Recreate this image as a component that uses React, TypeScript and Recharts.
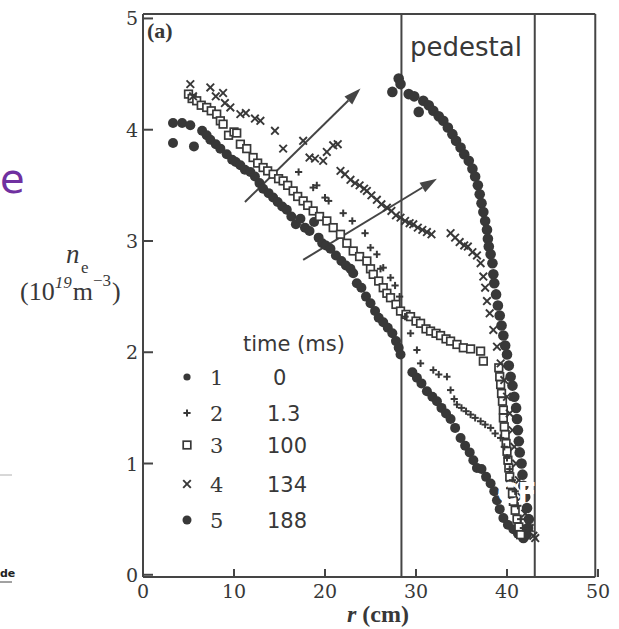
import React from 'react';
import { ScatterChart, Scatter, XAxis, YAxis, ReferenceLine } from 'recharts';

const INK = '#383838';
const LINE = '#454545';
const SERIF = '"DejaVu Serif", "Liberation Serif", serif';
const SANS = '"DejaVu Sans", "Liberation Sans", sans-serif';

const xTicks = [0, 10, 20, 30, 40, 50];
const yTicks = [0, 1, 2, 3, 4, 5];
const xDomain: [number, number] = [0, 50];
const yDomain: [number, number] = [-0.02, 5.04];
const frameRight = 49.7;
const pedestalBounds = [28.4, 43.05];

const seriesIds = ['1', '2', '3', '4', '5'];
const timesMs = ['0', '1.3', '100', '134', '188'];

// arrows: [r0, n0, r1, n1]
const arrowA = [11.2, 3.35, 23.9, 4.37];
const arrowB = [17.6, 2.83, 32.3, 3.56];

// series 1 : t = 0 ms (filled circles)
const s1: [number, number][] = [
  [3.3, 4.06], [4.3, 4.06], [3.3, 3.88], [5.2, 4.04], [5.6, 3.85], [6.5, 3.99], [7.0, 3.95], [7.4, 3.91],
  [8.0, 3.87], [8.5, 3.83], [9.2, 3.78], [9.8, 3.73], [10.2, 3.71], [10.7, 3.68], [11.2, 3.64], [11.8, 3.62],
  [12.3, 3.58], [12.8, 3.52], [13.2, 3.47], [13.8, 3.43], [14.3, 3.39], [14.8, 3.35], [15.3, 3.31], [15.8, 3.28],
  [16.3, 3.22], [16.8, 3.15], [17.3, 3.2], [17.8, 3.12], [18.3, 3.09], [18.8, 3.17], [19.3, 3.03], [19.7, 2.98],
  [20.1, 2.96], [20.6, 2.93], [21.2, 2.87], [21.8, 2.82], [22.3, 2.78], [22.8, 2.75], [23.1, 2.71], [23.5, 2.62],
  [24.0, 2.58], [24.5, 2.5], [25.0, 2.44], [25.5, 2.37], [25.9, 2.31], [26.4, 2.27], [26.9, 2.22], [27.4, 2.17],
  [27.8, 2.1], [28.1, 2.04], [28.3, 1.98], [29.6, 1.82], [30.1, 1.77], [30.6, 1.72], [31.2, 1.65], [31.8, 1.6],
  [32.3, 1.56], [32.8, 1.5], [33.3, 1.45], [33.8, 1.4], [34.3, 1.32], [34.9, 1.23], [35.4, 1.16], [35.9, 1.1],
  [36.3, 1.03], [36.7, 0.96], [37.2, 0.95], [37.7, 0.88], [38.2, 0.82], [38.6, 0.75], [38.9, 0.67], [39.2, 0.59],
  [39.6, 0.51], [40.1, 0.45], [40.7, 0.41], [41.2, 0.37], [41.7, 0.35],
];

// series 2 : t = 1.3 ms (plus)
const s2: [number, number][] = [
  [17.1, 3.62], [18.7, 3.48], [19.1, 3.5], [20.0, 3.39], [20.4, 3.36], [22.0, 3.25], [23.0, 3.18], [24.4, 3.07],
  [25.0, 2.94], [25.7, 2.88], [26.1, 2.75], [26.4, 2.76], [27.2, 2.67], [27.7, 2.6], [28.2, 2.5], [28.8, 2.32],
  [29.4, 2.17], [30.1, 2.02], [30.5, 1.9], [31.9, 1.84], [32.5, 1.8], [33.4, 1.78], [33.8, 1.66], [34.2, 1.58],
  [34.5, 1.53], [35.0, 1.5], [35.5, 1.47], [36.0, 1.44], [36.5, 1.41], [37.1, 1.38], [37.6, 1.35], [38.2, 1.32],
  [38.7, 1.27], [39.3, 1.23], [39.7, 1.15], [40.0, 1.05], [40.3, 0.95], [40.6, 0.85], [40.9, 0.75], [41.2, 0.62],
  [41.5, 0.5], [41.8, 0.42],
];

// series 3 : t = 100 ms (open squares)
const s3: [number, number][] = [
  [5.0, 4.32], [5.4, 4.28], [5.9, 4.26], [6.4, 4.22], [7.0, 4.2], [7.5, 4.17], [8.1, 4.14], [8.5, 4.08],
  [8.8, 4.05], [9.4, 3.95], [10.0, 3.98], [10.3, 3.97], [10.7, 3.87], [11.4, 3.83], [12.1, 3.75], [12.6, 3.7],
  [13.2, 3.66], [13.7, 3.63], [14.3, 3.6], [14.9, 3.56], [15.4, 3.54], [15.9, 3.5], [16.5, 3.45], [17.0, 3.4],
  [17.6, 3.36], [18.1, 3.32], [18.7, 3.27], [19.4, 3.22], [20.2, 3.18], [20.9, 3.12], [21.7, 3.06], [22.4, 2.98],
  [23.1, 2.91], [23.8, 2.86], [24.6, 2.82], [25.0, 2.75], [25.3, 2.7], [25.9, 2.64], [26.4, 2.58], [26.8, 2.53],
  [27.2, 2.49], [27.8, 2.43], [28.3, 2.37], [28.9, 2.34], [29.4, 2.32], [30.0, 2.28], [30.5, 2.26], [31.1, 2.21],
  [31.6, 2.19], [32.2, 2.17], [32.7, 2.15], [33.3, 2.12], [33.8, 2.1], [34.5, 2.07], [35.2, 2.04], [36.0, 2.03],
  [37.1, 2.01], [37.4, 1.92], [39.1, 1.86], [39.2, 1.78], [39.3, 1.71], [39.4, 1.63], [39.5, 1.56], [39.6, 1.48],
  [39.6, 1.41], [39.7, 1.33], [39.8, 1.26], [39.9, 1.18], [40.0, 1.11], [40.1, 1.03], [40.2, 0.96], [40.3, 0.88],
  [40.4, 0.81], [40.6, 0.73], [40.7, 0.66], [40.9, 0.58], [41.1, 0.5], [41.3, 0.43], [41.5, 0.36],
];

// series 4 : t = 134 ms (crosses)
const s4: [number, number][] = [
  [5.2, 4.41], [5.5, 4.3], [7.4, 4.38], [8.0, 4.3], [8.8, 4.33], [9.0, 4.24], [9.6, 4.2], [10.7, 4.14],
  [11.3, 4.15], [12.3, 4.1], [12.9, 4.08], [14.5, 3.99], [15.4, 3.83], [17.6, 3.9], [18.3, 3.75], [18.9, 3.74],
  [19.8, 3.72], [20.2, 3.8], [20.9, 3.86], [21.4, 3.87], [21.7, 3.63], [22.2, 3.6], [22.8, 3.55], [23.3, 3.52],
  [23.8, 3.5], [24.3, 3.47], [24.6, 3.45], [25.1, 3.41], [25.7, 3.37], [26.2, 3.33], [26.8, 3.3], [27.3, 3.27],
  [27.8, 3.23], [28.3, 3.21], [28.8, 3.18], [29.3, 3.16], [29.7, 3.15], [30.2, 3.12], [30.7, 3.1], [31.2, 3.08],
  [31.7, 3.06], [33.8, 3.07], [34.3, 3.03], [34.8, 2.99], [35.3, 2.96], [35.7, 2.95], [36.2, 2.9], [36.7, 2.87],
  [37.1, 2.8], [37.4, 2.68], [37.6, 2.58], [37.8, 2.46], [38.1, 2.35], [38.5, 2.2], [38.9, 2.05], [39.3, 1.9],
  [39.7, 1.75], [40.0, 1.6], [40.3, 1.45], [40.6, 1.3], [40.8, 1.15], [41.0, 1.0], [41.3, 0.85], [41.6, 0.7],
  [42.0, 0.55], [42.5, 0.42], [42.9, 0.35], [43.1, 0.33],
];

// series 5 : t = 188 ms (filled circles, pedestal)
const s5: [number, number][] = [
  [27.4, 4.34], [28.1, 4.46], [28.3, 4.41], [29.2, 4.32], [29.8, 4.3], [30.3, 4.16], [30.8, 4.26], [31.4, 4.22],
  [31.9, 4.17], [32.5, 4.12], [33.0, 4.08], [33.5, 4.02], [34.0, 3.96], [34.4, 3.9], [34.9, 3.84], [35.3, 3.78],
  [35.8, 3.72], [36.2, 3.65], [36.5, 3.58], [36.8, 3.5], [37.0, 3.42], [37.2, 3.34], [37.4, 3.26], [37.6, 3.18],
  [37.8, 3.1], [37.9, 3.02], [38.0, 2.95], [38.2, 2.88], [38.4, 2.8], [38.5, 2.7], [38.6, 2.62], [38.8, 2.52],
  [39.0, 2.42], [39.2, 2.33], [39.4, 2.24], [39.6, 2.15], [39.8, 2.06], [40.0, 1.98], [40.2, 1.88], [40.4, 1.78],
  [40.6, 1.7], [40.8, 1.6], [41.0, 1.5], [41.1, 1.4], [41.2, 1.3], [41.3, 1.2], [41.4, 1.1], [41.6, 1.0],
  [41.7, 0.9], [41.8, 0.8], [42.0, 0.7], [42.2, 0.6], [42.4, 0.5], [42.3, 0.42], [42.1, 0.36], [41.8, 0.33],
];

const toPts = (a: [number, number][]) => a.map(([r, n]) => ({ r, n }));

const DotMark = (r: number) => (p: any) => <circle cx={p.cx} cy={p.cy} r={r} fill={INK} />;
const PlusMark = (p: any) => (
  <g stroke={INK} strokeWidth={2}>
    <line x1={p.cx - 3.6} x2={p.cx + 3.6} y1={p.cy} y2={p.cy} />
    <line x1={p.cx} x2={p.cx} y1={p.cy - 3.6} y2={p.cy + 3.6} />
  </g>
);
const SquareMark = (p: any) => (
  <rect x={p.cx - 3.8} y={p.cy - 3.8} width={7.6} height={7.6} fill="#fff" stroke={INK} strokeWidth={1.7} />
);
const CrossMark = (p: any) => (
  <g stroke={INK} strokeWidth={1.9}>
    <line x1={p.cx - 3.8} x2={p.cx + 3.8} y1={p.cy - 3.8} y2={p.cy + 3.8} />
    <line x1={p.cx - 3.8} x2={p.cx + 3.8} y1={p.cy + 3.8} y2={p.cy - 3.8} />
  </g>
);

const ArrowShape = (p: any) => {
  const { x1, y1, x2, y2 } = p;
  if ([x1, y1, x2, y2].some((v) => typeof v !== 'number' || isNaN(v))) return <g />;
  const a = Math.atan2(y2 - y1, x2 - x1);
  const L = 17;
  const W = 5.5;
  const bx = x2 - L * Math.cos(a);
  const by = y2 - L * Math.sin(a);
  const px = -Math.sin(a) * W;
  const py = Math.cos(a) * W;
  return (
    <g>
      <line x1={x1} y1={y1} x2={bx} y2={by} stroke={LINE} strokeWidth={2} />
      <polygon points={`${x2},${y2} ${bx + px},${by + py} ${bx - px},${by - py}`} fill={LINE} />
    </g>
  );
};

const YTick = (p: any) => (
  <g>
    <line x1={p.x} x2={p.x + 10} y1={p.y} y2={p.y} stroke={LINE} strokeWidth={2} />
    <text x={p.x - 5} y={p.y + 7} textAnchor="end" fontFamily={SERIF} fontSize={19} fill={INK}>
      {p.payload.value}
    </text>
  </g>
);

const XTick = (p: any) => (
  <g>
    <line x1={p.x} x2={p.x} y1={p.y} y2={p.y - 8} stroke={LINE} strokeWidth={2} />
    <text x={p.x} y={p.y + 21} textAnchor="middle" fontFamily={SERIF} fontSize={19} fill={INK}>
      {p.payload.value}
    </text>
  </g>
);

const legendMarks = [DotMark(3.6), PlusMark, SquareMark, CrossMark, DotMark(4.5)];
const legendRowsY = [377, 413, 445, 484, 520];

export default function App() {
  return (
    <div style={{ position: 'absolute', left: 0, top: 0, width: 619, height: 629, background: '#fff' }}>
      <ScatterChart width={619} height={629} margin={{ top: 14, right: 21, bottom: 12, left: 103 }}>
        <XAxis
          type="number"
          dataKey="r"
          domain={xDomain}
          ticks={xTicks}
          height={40}
          axisLine={false}
          tickLine={false}
          tickSize={0}
          tickMargin={0}
          tick={<XTick />}
          allowDataOverflow
        />
        <YAxis
          type="number"
          dataKey="n"
          domain={yDomain}
          ticks={yTicks}
          width={40}
          axisLine={{ stroke: LINE, strokeWidth: 2 }}
          tickLine={false}
          tickSize={0}
          tickMargin={0}
          tick={<YTick />}
          allowDataOverflow
        />
        <ReferenceLine
          segment={[{ x: xDomain[0], y: yDomain[1] }, { x: frameRight, y: yDomain[1] }]}
          stroke={LINE}
          strokeWidth={2}
          ifOverflow="visible"
        />
        <ReferenceLine
          segment={[{ x: xDomain[0], y: yDomain[0] }, { x: frameRight, y: yDomain[0] }]}
          stroke={LINE}
          strokeWidth={2}
          ifOverflow="visible"
        />
        <ReferenceLine x={frameRight} stroke={LINE} strokeWidth={2} ifOverflow="visible" />
        {pedestalBounds.map((b) => (
          <ReferenceLine key={b} x={b} stroke={LINE} strokeWidth={2} ifOverflow="visible" />
        ))}
        <Scatter data={toPts(s1)} shape={DotMark(5)} isAnimationActive={false} />
        <Scatter data={toPts(s5)} shape={DotMark(5.3)} isAnimationActive={false} />
        <Scatter data={toPts(s3)} shape={SquareMark} isAnimationActive={false} />
        <Scatter data={toPts(s2)} shape={PlusMark} isAnimationActive={false} />
        <Scatter data={toPts(s4)} shape={CrossMark} isAnimationActive={false} />
        <ReferenceLine
          segment={[{ x: arrowA[0], y: arrowA[1] }, { x: arrowA[2], y: arrowA[3] }]}
          shape={ArrowShape}
          ifOverflow="visible"
        />
        <ReferenceLine
          segment={[{ x: arrowB[0], y: arrowB[1] }, { x: arrowB[2], y: arrowB[3] }]}
          shape={ArrowShape}
          ifOverflow="visible"
        />
      </ScatterChart>
      <svg
        width={619}
        height={629}
        style={{ position: 'absolute', left: 0, top: 0, pointerEvents: 'none' }}
      >
        {/* slide remnants */}
        <text x={0} y={193} fontFamily={SANS} fontSize={40} fill="#7030a0">e</text>
        <line x1={0} x2={12} y1={475} y2={475} stroke="#b0b0b0" strokeWidth={1} />
        <text x={0} y={577} fontFamily={SANS} fontSize={11} fontWeight="bold" fill="#222">de</text>
        <line x1={0} x2={12} y1={582} y2={582} stroke="#444" strokeWidth={1} />

        <text x={147} y={38} fontFamily='"Liberation Serif", serif' fontWeight="bold" fontSize={22} fill={INK}>(a)</text>
        <text x={410} y={56} fontFamily={SANS} fontSize={26} fill={INK}>pedestal</text>

        {/* y label */}
        <text x={66} y={263} fontFamily='"Liberation Serif", serif' fontStyle="italic" fontSize={27} fill={INK}>n</text>
        <text x={81} y={273} fontFamily='"Liberation Serif", serif' fontSize={17} fill={INK}>e</text>
        <text x={20} y={300} fontFamily='"Liberation Serif", serif' fontSize={26} fill={INK}>
          (10
          <tspan fontSize={17} fontStyle="italic" dy={-12}>19</tspan>
          <tspan dy={12} dx={1}>m</tspan>
          <tspan fontSize={17} dy={-14}>−3</tspan>
          <tspan dy={14} dx={1}>)</tspan>
        </text>

        {/* x label */}
        <text x={347} y={622} fontFamily='"Liberation Serif", serif' fontWeight="bold" fontSize={24} fill={INK}>
          <tspan fontStyle="italic">r</tspan> (cm)
        </text>

        {/* legend */}
        <text x={243} y={351} fontFamily={SANS} fontSize={21} fill={INK}>time (ms)</text>
        {seriesIds.map((id, i) => {
          const Mark = legendMarks[i];
          const cy = legendRowsY[i];
          return (
            <g key={id}>
              <Mark cx={187} cy={cy} />
              <text x={210} y={cy + 8} fontFamily={SERIF} fontSize={21} fill={INK}>{id}</text>
              <text x={i === 0 ? 273 : 267} y={cy + 8} fontFamily={SANS} fontSize={21} fill={INK}>{timesMs[i]}</text>
            </g>
          );
        })}

        <text x={497} y={503} fontFamily={SANS} fontWeight="bold" fontSize={28} fill="#fff">CF</text>
      </svg>
    </div>
  );
}
